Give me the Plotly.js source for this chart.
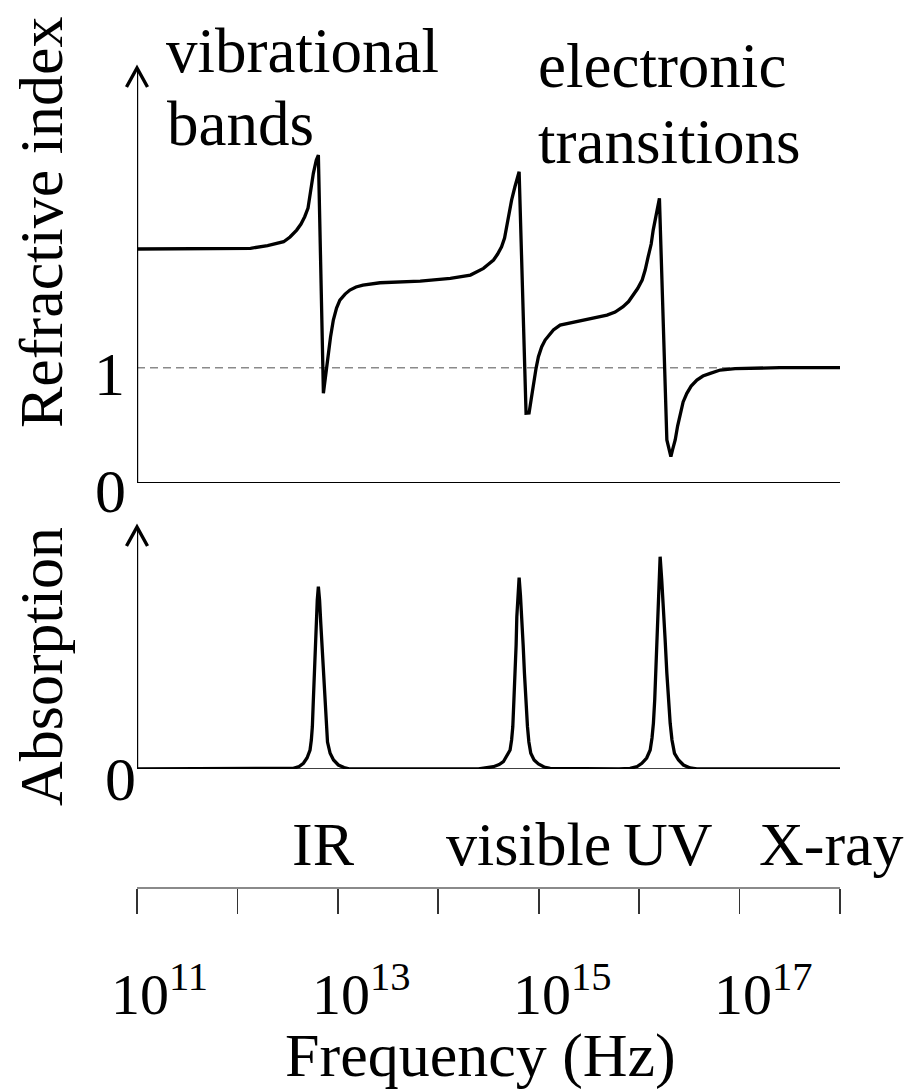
<!DOCTYPE html>
<html>
<head>
<meta charset="utf-8">
<script src="https://cdn.plot.ly/plotly-3.0.1.min.js"></script>
<style>html,body{margin:0;padding:0;background:#fff;}#chart{width:917px;height:1092px;}</style>
</head>
<body>
<div id="chart"></div>
<script>
// ---- data (frequency as log10 of Hz) ----
const refLogF = [11.00, 11.60, 12.13, 12.30, 12.46, 12.524, 12.59, 12.633, 12.67, 12.703, 12.72, 12.743,
  12.756, 12.785, 12.806,
  12.856, 12.88, 12.905, 12.927, 12.955, 12.987, 13.02, 13.072, 13.12, 13.181, 13.25, 13.42, 13.82,
  14.12, 14.32, 14.45, 14.496, 14.55, 14.591, 14.63, 14.66, 14.68, 14.705, 14.73, 14.763, 14.805,
  14.874, 14.904, 14.924, 14.947, 14.974, 14.997, 15.029, 15.064, 15.104, 15.146, 15.213,
  15.51, 15.68, 15.761, 15.84, 15.895, 15.94, 15.985, 16.03, 16.06, 16.09, 16.12, 16.14, 16.175, 16.202,
  16.276, 16.30, 16.316, 16.333, 16.359, 16.383, 16.408, 16.438, 16.475, 16.518, 16.575, 16.635,
  16.708, 16.807, 16.956, 17.106, 17.40, 18.0];
const refIndex = [2.03, 2.03, 2.036, 2.06, 2.093, 2.134, 2.194, 2.246, 2.31, 2.385, 2.483, 2.585,
  2.686, 2.80, 2.845,
  0.778, 0.951, 1.125, 1.266, 1.414, 1.518, 1.587, 1.639, 1.674, 1.700, 1.717, 1.737, 1.752,
  1.775, 1.804, 1.862, 1.895, 1.934, 1.986, 2.049, 2.125, 2.223, 2.333, 2.454, 2.57, 2.70,
  0.605, 0.607, 0.720, 0.865, 0.997, 1.095, 1.180, 1.24, 1.288, 1.327, 1.37,
  1.428, 1.457, 1.483, 1.529, 1.574, 1.631, 1.687, 1.761, 1.847, 1.963, 2.073, 2.194, 2.35, 2.469,
  0.373, 0.271, 0.228, 0.29, 0.373, 0.494, 0.605, 0.703, 0.778, 0.841, 0.893, 0.928,
  0.951, 0.98, 0.993, 0.997, 1.0, 1.0];

const absLogF = [11.0, 12.42, 12.557, 12.614, 12.657, 12.693, 12.723, 12.736, 12.746, 12.756, 12.766,
  12.775, 12.783, 12.795, 12.806, 12.818, 12.830, 12.843, 12.856, 12.869, 12.883, 12.897, 12.923,
  12.957, 13.005, 13.062, 13.122,
  14.40, 14.549, 14.606, 14.648, 14.685, 14.715, 14.730, 14.742, 14.753, 14.765, 14.775, 14.782,
  14.793, 14.805, 14.818, 14.832, 14.845, 14.858, 14.871, 14.888, 14.902, 14.921, 14.954, 14.997,
  15.054, 15.114,
  15.80, 15.910, 15.980, 16.027, 16.075, 16.110, 16.128, 16.142, 16.155, 16.166, 16.177, 16.186,
  16.197, 16.209, 16.225, 16.242, 16.259, 16.276, 16.292, 16.309, 16.327, 16.352, 16.392, 16.441,
  16.508, 16.574, 18.0];
const absVal = [0, 0.0, 0.007, 0.025, 0.057, 0.11, 0.19, 0.29, 0.423, 0.69, 0.957,
  1.21, 1.457, 1.69, 1.823, 1.69, 1.457, 1.21, 0.957, 0.69, 0.423, 0.27, 0.157,
  0.09, 0.04, 0.015, 0.0,
  0.0, 0.023, 0.045, 0.073, 0.13, 0.19, 0.29, 0.423, 0.69, 0.957, 1.24, 1.523,
  1.74, 1.913, 1.74, 1.523, 1.24, 0.957, 0.69, 0.423, 0.27, 0.157, 0.09, 0.05,
  0.02, 0.007,
  0.0, 0.007, 0.025, 0.057, 0.11, 0.19, 0.31, 0.457, 0.69, 0.957, 1.29, 1.623,
  1.89, 2.123, 1.89, 1.623, 1.29, 0.957, 0.69, 0.457, 0.29, 0.157, 0.09, 0.04,
  0.01, 0.0, 0];

const tickExp = [11, 12, 13, 14, 15, 16, 17, 18];
const labelExp = [11, 13, 15, 17];
const bandLabels = ['IR', 'visible', 'UV', 'X-ray'];
const bandCenters = [12.86, 14.9, 16.29, 17.92];

// ---- helpers for pixel -> paper ----
const W = 917, H = 1092;
const px = x => x / W;
const py = y => 1 - y / H;
const FONT = '"Liberation Serif", "Times New Roman", serif';

const traces = [
  {x: refLogF, y: refIndex, xaxis: 'x', yaxis: 'y', mode: 'lines',
   line: {color: '#000', width: 3.3}, hoverinfo: 'skip'},
  {x: absLogF, y: absVal, xaxis: 'x', yaxis: 'y2', mode: 'lines',
   line: {color: '#000', width: 3.3}, hoverinfo: 'skip'}
];

function chevron(tipX, tipY) {
  return {type: 'path', xref: 'paper', yref: 'paper',
    path: `M ${px(tipX - 10.5)} ${py(tipY + 19)} L ${px(tipX)} ${py(tipY)} L ${px(tipX + 10.5)} ${py(tipY + 19)}`,
    line: {color: '#000', width: 3.4}};
}

const shapes = [
  // dashed n = 1
  {type: 'line', xref: 'x', yref: 'y', x0: 11, x1: 18, y0: 1, y1: 1,
   line: {color: '#8a8a8a', width: 1.6, dash: '8px,5px'}, layer: 'below'},
  // top panel axes
  {type: 'line', xref: 'x', yref: 'y', x0: 11, x1: 18, y0: 0, y1: 0, line: {color: '#000', width: 2}},
  {type: 'line', xref: 'x', yref: 'y', x0: 11, x1: 11, y0: 0, y1: 3.58, line: {color: '#000', width: 2.4}},
  chevron(137, 68),
  // bottom panel axes
  {type: 'line', xref: 'x', yref: 'y2', x0: 11, x1: 18, y0: 0, y1: 0, line: {color: '#000', width: 1.6}},
  {type: 'line', xref: 'x', yref: 'y2', x0: 11, x1: 11, y0: 0, y1: 2.40, line: {color: '#000', width: 2.4}},
  chevron(137, 527)
];

const S = 62;
function txt(text, x, y, xanchor, size, extra) {
  return Object.assign({text: text, xref: 'paper', yref: 'paper', x: px(x), y: py(y),
    xanchor: xanchor, yanchor: 'middle', showarrow: false,
    font: {family: FONT, size: size || S, color: '#000'}}, extra || {});
}

const annotations = [
  txt('vibrational', 164, 51, 'left', 63),
  txt('bands', 165, 124, 'left', 63),
  txt('electronic', 536, 66, 'left', 63),
  txt('transitions', 536, 142, 'left', 63),
  txt('Refractive index', 41, 223, 'center', S, {textangle: -90}),
  txt('Absorption', 41, 667, 'center', S, {textangle: -90}),
  txt('1', 109, 374, 'center'),
  txt('0', 110, 491, 'center'),
  txt('0', 120, 779, 'center'),
  txt('Frequency (Hz)', 480, 1055, 'center')
];
bandLabels.forEach((b, i) => {
  annotations.push({text: b, xref: 'x', yref: 'paper', x: bandCenters[i], y: py(844),
    xanchor: 'center', yanchor: 'middle', showarrow: false,
    font: {family: FONT, size: S, color: '#000'}});
});
labelExp.forEach(e => {
  annotations.push({text: '10<sup>' + e + '</sup>', xref: 'x', yref: 'paper', x: e, xshift: -28,
    y: py(1016 + 0.216 * 58), xanchor: 'left', yanchor: 'bottom', showarrow: false,
    font: {family: FONT, size: 58, color: '#000'}});
});

const layout = {
  width: W, height: H,
  margin: {l: 0, r: 0, t: 0, b: 0},
  paper_bgcolor: '#fff', plot_bgcolor: 'rgba(0,0,0,0)',
  showlegend: false,
  xaxis: {range: [11, 18], domain: [px(137), px(840)], anchor: 'free', position: py(887),
    showline: true, linecolor: '#8a8a8a', linewidth: 1.6,
    ticks: 'outside', ticklen: 25, tickwidth: 1.6, tickcolor: '#333',
    tickmode: 'array', tickvals: tickExp, showticklabels: false,
    showgrid: false, zeroline: false, fixedrange: true},
  yaxis: {range: [0, 3.6], domain: [py(483), py(68)], anchor: 'x', visible: false, fixedrange: true},
  yaxis2: {range: [0, 2.42], domain: [py(769), py(527)], anchor: 'x', visible: false, fixedrange: true},
  shapes: shapes,
  annotations: annotations
};

Plotly.newPlot('chart', traces, layout, {staticPlot: true, displayModeBar: false});
</script>
</body>
</html>
